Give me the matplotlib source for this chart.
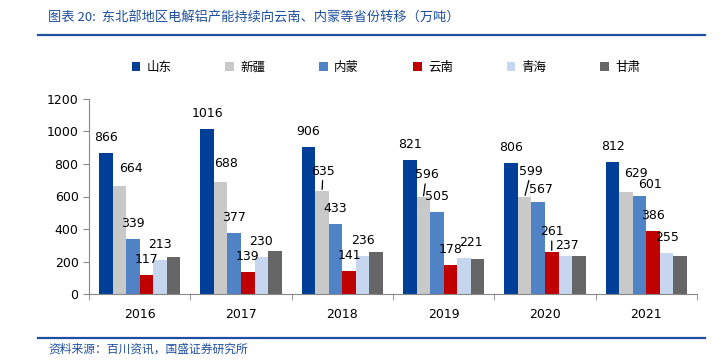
import matplotlib
matplotlib.use("Agg")
import matplotlib.pyplot as plt
from matplotlib.lines import Line2D
import numpy as np

plt.rcParams['font.family'] = ['DejaVu Sans', 'Noto Sans CJK SC']

years = ['2016', '2017', '2018', '2019', '2020', '2021']
series_names = ['山东', '新疆', '内蒙', '云南', '青海', '甘肃']
shandong = [866, 1016, 906, 821, 806, 812]
xinjiang = [664, 688, 635, 596, 599, 629]
neimeng = [339, 377, 433, 505, 567, 601]
yunnan = [117, 139, 141, 178, 261, 386]
qinghai = [213, 230, 236, 221, 237, 255]
gansu = [227, 263, 258, 218, 233, 237]
labeled = [True, True, True, True, True, False]

colors = ['#003F98', '#C9C9C9', '#4F83C6', '#C00000', '#C5D6EE', '#666666']
all_series = [shandong, xinjiang, neimeng, yunnan, qinghai, gansu]

# label offsets in pixels (dx, dy above bar top); default (0, 14)
offsets_px = {
    (0, 1): (12, 16), (1, 1): (5, 17), (2, 1): (1, 18), (3, 1): (3, 21),
    (3, 4): (7.5, 14), (4, 1): (6.5, 24), (4, 2): (3, 11), (4, 3): (0, 18.5),
    (4, 4): (2, 9), (5, 1): (10, 16.5), (5, 2): (10, 10),
}
leaders = {(2, 1), (3, 1), (4, 1), (4, 3)}

W, H, DPI = 727, 360, 100
fig = plt.figure(figsize=(W / DPI, H / DPI), dpi=DPI)
ax = fig.add_axes([89 / W, 1 - 294.3 / H, (697 - 89) / W, (294.3 - 98.7) / H])

n = len(all_series)
width = 0.8 / n
x = np.arange(len(years))
handles = []
for i, (vals, col) in enumerate(zip(all_series, colors)):
    pos = x - 0.4 + width * (i + 0.5)
    b = ax.bar(pos, vals, width, color=col, edgecolor='none', label=series_names[i])
    handles.append(b)
    if not labeled[i]:
        continue
    for j, v in enumerate(vals):
        dx, dy = offsets_px.get((j, i), (0, 14))
        kw = {}
        if (j, i) in leaders:
            kw['arrowprops'] = dict(arrowstyle='-', lw=0.9, color='black', shrinkA=0, shrinkB=1)
        ax.annotate(str(v), xy=(pos[j], v), xytext=(dx * 72 / DPI, (dy - 5) * 72 / DPI),
                    textcoords='offset points', ha='center', va='bottom',
                    fontsize=9, color='black', **kw)

ax.set_xlim(-0.5, len(years) - 0.5)
ax.set_ylim(0, 1200)
ax.set_yticks(range(0, 1201, 200))
ax.set_xticks(x)
ax.set_xticklabels(years)
ax.set_xticks(np.arange(-0.5, len(years), 1.0), minor=True)
ax.tick_params(axis='x', which='major', length=0, labelsize=9, pad=10)
ax.tick_params(axis='x', which='minor', length=4, color='#888888', direction='out')
ax.tick_params(axis='y', length=4, color='#888888', labelsize=9, direction='out')
for s in ['top', 'right']:
    ax.spines[s].set_visible(False)
for s in ['left', 'bottom']:
    ax.spines[s].set_color('#888888')
    ax.spines[s].set_linewidth(0.8)

leg = fig.legend(handles=handles, labels=series_names, ncol=6, loc='center',
                 bbox_to_anchor=(386 / W, 1 - 67 / H), frameon=False, fontsize=9,
                 handlelength=0.7, handleheight=0.7, handletextpad=0.5, columnspacing=4.3)

title_color = '#1F4FA0'
fig.text(48 / W, 1 - 18 / H, '图表 20:  东北部地区电解铝产能持续向云南、内蒙等省份转移（万吨）',
         fontsize=9.5, color=title_color, style='italic', va='center', ha='left',
         family=['Noto Sans CJK SC', 'DejaVu Sans'])
fig.add_artist(Line2D([38 / W, 705 / W], [1 - 35 / H, 1 - 35 / H], color=title_color, lw=1.6))
fig.add_artist(Line2D([38 / W, 705 / W], [1 - 338 / H, 1 - 338 / H], color=title_color, lw=1.6))
fig.text(48 / W, 1 - 349 / H, '资料来源：百川资讯，国盛证券研究所', fontsize=8.5, color=title_color,
         style='italic', va='center', ha='left', family=['Noto Sans CJK SC', 'DejaVu Sans'])

fig.savefig('out.png', dpi=DPI)
